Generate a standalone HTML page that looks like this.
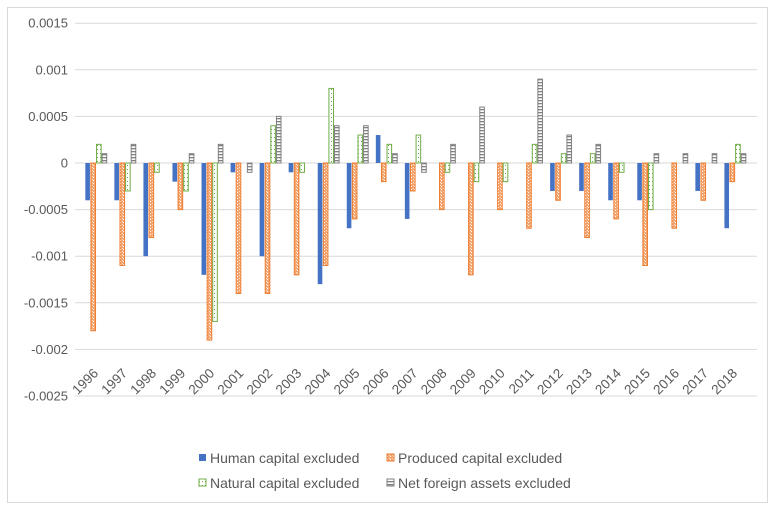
<!DOCTYPE html>
<html><head><meta charset="utf-8"><style>
html,body{margin:0;padding:0;background:#fff;}
svg text{font-family:"Liberation Sans",sans-serif;fill:#595959;}
</style></head><body>
<svg id="chart" width="775" height="509" xmlns="http://www.w3.org/2000/svg">
<defs>
<pattern id="pOrange" width="3" height="3" patternUnits="userSpaceOnUse"><rect width="3" height="3" fill="#f4a46c"/><rect width="1" height="1" fill="#fff"/><rect x="2" y="2" width="1" height="1" fill="#fde3cf"/></pattern>
<pattern id="pGreen" width="3" height="4" patternUnits="userSpaceOnUse"><rect width="3" height="4" fill="#fff"/><rect x="1" y="1" width="1" height="1" fill="#70ad47"/></pattern>
<pattern id="pGray" width="4" height="3" patternUnits="userSpaceOnUse"><rect width="4" height="3" fill="#fff"/><rect y="1" width="4" height="1.3" fill="#808080"/></pattern>
</defs>
<rect x="7.5" y="7.5" width="760" height="495" fill="#fff" stroke="#d9d9d9"/>
<g id="grid"></g><g id="bars"></g><g id="labels"></g>
<g>
<g><rect x="199" y="454" width="7" height="7" fill="#4472c4"/><text x="210" y="463" font-size="14">Human capital excluded</text></g>
<g><rect x="387" y="454" width="7" height="7" fill="url(#pOrange)" stroke="#ed7d31"/><text x="398" y="463" font-size="14">Produced capital excluded</text></g>
<g><rect x="199" y="479" width="7" height="7" fill="url(#pGreen)" stroke="#70ad47"/><text x="210" y="488" font-size="14">Natural capital excluded</text></g>
<g><rect x="387" y="479" width="7" height="7" fill="url(#pGray)" stroke="#808080"/><text x="398" y="488" font-size="14">Net foreign assets excluded</text></g>
</g>
</svg>
<script>
const categories=["1996","1997","1998","1999","2000","2001","2002","2003","2004","2005","2006","2007","2008","2009","2010","2011","2012","2013","2014","2015","2016","2017","2018"];
const human=[-0.0004,-0.0004,-0.001,-0.0002,-0.0012,-0.0001,-0.001,-0.0001,-0.0013,-0.0007,0.0003,-0.0006,0,0,0,0,-0.0003,-0.0003,-0.0004,-0.0004,0,-0.0003,-0.0007];
const produced=[-0.0018,-0.0011,-0.0008,-0.0005,-0.0019,-0.0014,-0.0014,-0.0012,-0.0011,-0.0006,-0.0002,-0.0003,-0.0005,-0.0012,-0.0005,-0.0007,-0.0004,-0.0008,-0.0006,-0.0011,-0.0007,-0.0004,-0.0002];
const natural=[0.0002,-0.0003,-0.0001,-0.0003,-0.0017,0,0.0004,-0.0001,0.0008,0.0003,0.0002,0.0003,-0.0001,-0.0002,-0.0002,0.0002,0.0001,0.0001,-0.0001,-0.0005,0,0,0.0002];
const netForeign=[0.0001,0.0002,0,0.0001,0.0002,-0.0001,0.0005,0,0.0004,0.0004,0.0001,-0.0001,0.0002,0.0006,0,0.0009,0.0003,0.0002,0,0.0001,0.0001,0.0001,0.0001];
const yTicks=[0.0015,0.001,0.0005,0,-0.0005,-0.001,-0.0015,-0.002,-0.0025];
const yTickLabels=["0.0015","0.001","0.0005","0","-0.0005","-0.001","-0.0015","-0.002","-0.0025"];
const NS="http://www.w3.org/2000/svg";
const X0=81.5,CW=29.05,BW=5.6;
function y(v){return 163-(v/0.0005)*46.6;}
function x(i){return X0+i*CW;}
const grid=document.getElementById('grid'),bars=document.getElementById('bars'),labels=document.getElementById('labels');
yTicks.forEach((t,i)=>{
 const l=document.createElementNS(NS,'line');
 l.setAttribute('x1',75);l.setAttribute('x2',757);l.setAttribute('y1',y(t));l.setAttribute('y2',y(t));
 l.setAttribute('stroke','#d9d9d9');
 
 
 grid.appendChild(l);
 const tx=document.createElementNS(NS,'text');
 tx.setAttribute('x',68);tx.setAttribute('y',y(t)+4.5);tx.setAttribute('text-anchor','end');tx.setAttribute('font-size','13');
 tx.textContent=yTickLabels[i];
 
 
 labels.appendChild(tx);
});
const series=[[human,'#4472c4','none','bar-human'],[produced,'url(#pOrange)','#ed7d31','bar-produced'],[natural,'url(#pGreen)','#70ad47','bar-natural'],[netForeign,'url(#pGray)','#808080','bar-net-foreign']];
categories.forEach((c,i)=>{
 const gx=x(i)+(CW-4*BW)/2;
 series.forEach((s,k)=>{
  const v=s[0][i]; if(v===0) return;
  const r=document.createElementNS(NS,'rect');
  const top=Math.min(y(v),y(0)),h=Math.abs(y(v)-y(0));
  r.setAttribute('x',gx+k*BW+0.5);r.setAttribute('y',top);r.setAttribute('width',BW-1);r.setAttribute('height',h);
  r.setAttribute('fill',s[1]);
  if(s[2]!=='none'){r.setAttribute('stroke',s[2]);r.setAttribute('stroke-width','1');}
  
  
  bars.appendChild(r);
 });
 const t=document.createElementNS(NS,'text');
 const cx=x(i)+CW/2+3,cy=374;
 t.setAttribute('x',cx);t.setAttribute('y',cy);t.setAttribute('text-anchor','end');t.setAttribute('font-size','13.5');
 t.setAttribute('transform','rotate(-45 '+cx+' '+cy+')');
 t.textContent=c;
 
 
 labels.appendChild(t);
});
</script>
</body></html>
